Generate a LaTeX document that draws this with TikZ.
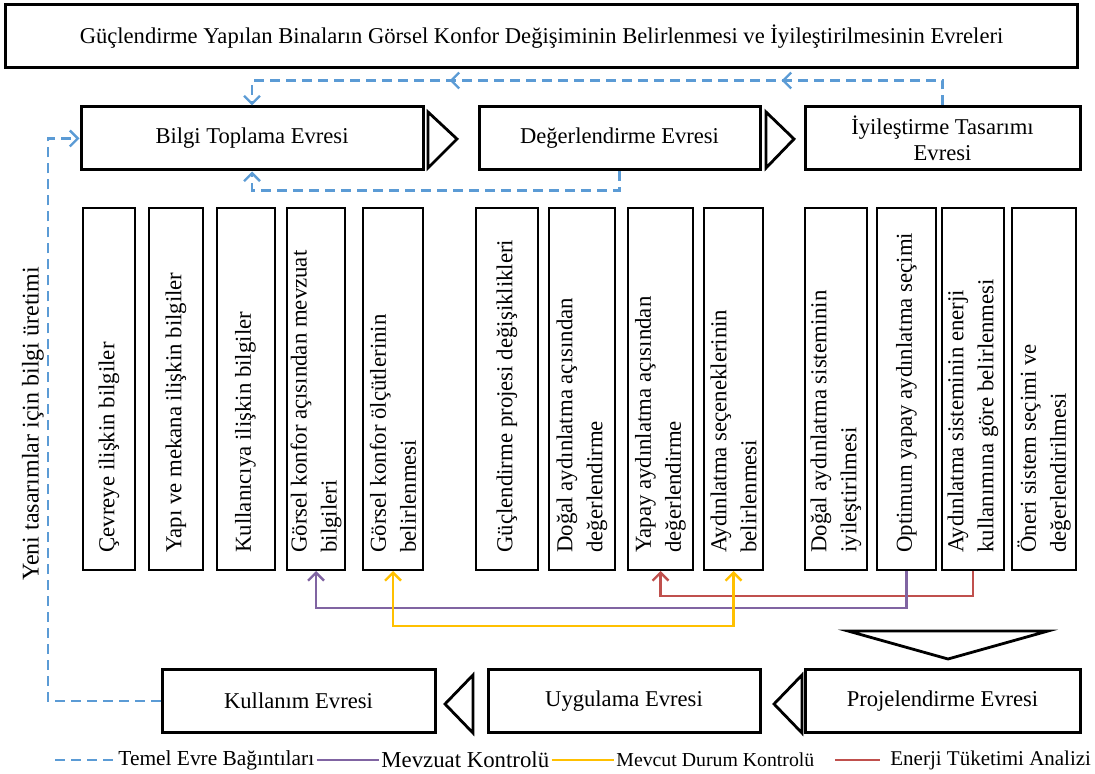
\documentclass[tikz,border=0pt]{standalone}
\usepackage{fontspec}
\setmainfont{Liberation Serif}
\usetikzlibrary{arrows.meta,decorations.markings}
\definecolor{evremavi}{RGB}{91,155,213}
\definecolor{mor}{RGB}{128,100,162}
\definecolor{sari}{RGB}{255,192,0}
\definecolor{kirmizi}{RGB}{192,80,77}
\tikzset{
  evre/.style={draw, line width=1.5pt, minimum height=31.5pt, align=center,
    font=\fontsize{11.3}{13}\selectfont},
  kutu/.style={draw, line width=1pt, minimum height=181pt},
  dikyazi/.style={rotate=90, anchor=west, align=left, inner sep=0pt,
    font=\fontsize{11.4}{15}\selectfont},
  bag/.style={evremavi, line width=1.2pt, dash pattern=on 5pt off 3pt},
  ok/.style={-{Straight Barb[length=4pt,width=8pt]}},
  ucgen/.style={draw, line width=1.4pt, fill=white, line join=miter}
}
\begin{document}
\begin{tikzpicture}[x=0.5pt, y=-0.5pt]
  \useasboundingbox (0,0) rectangle (1095,774);
  % baslik
  \node[evre, minimum width=536pt] (baslik) at (541.5,36.5)
  {G\"u\c{c}lendirme Yap\i lan Binalar\i n G\"orsel Konfor De\u{g}i\c{s}iminin Belirlenmesi ve \.Iyile\c{s}tirilmesinin Evreleri};
  % ust evreler
  \node[evre, minimum width=171pt] (bilgi) at (252,138.5) {Bilgi Toplama Evresi};
  \node[evre, minimum width=140.5pt] (deger) at (619.5,138.5) {Değerlendirme Evresi};
  \node[evre, minimum width=137.5pt] (iyi) at (942.5,138.5) {İyileştirme Tasarımı\\Evresi};
  \draw[ucgen] (428,112) -- (457,139) -- (428,168) -- cycle;
  \draw[ucgen] (766,112) -- (794,139) -- (766,168) -- cycle;
  % alt kutular
  \foreach \n/\x/\w/\t in {
    1/109/26/{Çevreye ilişkin bilgiler},
    2/176/27/{Yapı ve mekana ilişkin bilgiler},
    3/245.5/29/{Kullanıcıya ilişkin bilgiler},
    4/316/29/{Görsel konfor açısından mevzuat\\bilgileri},
    5/393/30/{Görsel konfor ölçütlerinin\\belirlenmesi},
    6/507/31/{Güçlendirme projesi değişiklikleri},
    7/582/33/{Doğal aydınlatma açısından\\değerlendirme},
    8/660.5/32.5/{Yapay aydınlatma açısından\\değerlendirme},
    9/733.5/29.5/{Aydınlatma seçeneklerinin\\belirlenmesi},
    10/836/31/{Doğal aydınlatma sisteminin\\iyileştirilmesi},
    11/906.5/29.5/{Optimum yapay aydınlatma seçimi},
    12/973/31/{Aydınlatma sisteminin enerji\\kullanımına göre belirlenmesi},
    13/1044/32/{Öneri sistem seçimi ve\\değerlendirilmesi}}{
    \node[kutu, minimum width=\w pt] (k\n) at (\x,389) {};
    \node[dikyazi] (y\n) at ([yshift=9pt]k\n.south) {\t};
  }
  % kontrol baglantilari
  \draw[kirmizi, line width=1.2pt, ok] (k12.south) -- ++(0,25) -| (k8.south);
  \draw[mor, line width=1.2pt, ok] (k11.south) -- ++(0,37) -| (k4.south);
  \draw[sari, line width=1.2pt, {Straight Barb[length=4pt,width=8pt]}-{Straight Barb[length=4pt,width=8pt]}]
    (k5.south) -- ++(0,55) -| (k9.south);
  % alt evreler
  \draw[ucgen] (848,631) -- (1048,631) -- (948,659) -- cycle;
  \node[evre, minimum width=136.5pt] (kul) at (298.5,701) {Kullanım Evresi};
  \node[evre, minimum width=136pt] (uyg) at (624,701) {Uygulama Evresi};
  \node[evre, minimum width=137.5pt] (pro) at (942.5,701) {Projelendirme Evresi};
  \draw[ucgen] (473,675) -- (445,704) -- (473,733) -- cycle;
  \draw[ucgen] (802,675) -- (774,704) -- (802,733) -- cycle;
  % temel evre baglantilari
  \draw[bag, ok, postaction={decorate, decoration={markings,
      mark=at position 93pt with {\arrow[evremavi, solid]{Straight Barb[length=4pt,width=8pt]}},
      mark=at position 259pt with {\arrow[evremavi, solid]{Straight Barb[length=4pt,width=8pt]}}}}]
    (iyi.north) -- ++(0,-25) -| (bilgi.north);
  \draw[bag, ok] (deger.south) -- ++(0,19) -| (bilgi.south);
  \coordinate (sol) at (48,0);
  \draw[bag, ok] (kul.west) -| (sol |- bilgi.west) -- (bilgi.west);
  \node[rotate=90, font=\fontsize{12}{13}\selectfont] (yeni) at (33,424)
    {Yeni tasarımlar için bilgi üretimi};
  % lejant
  \node[anchor=west, inner sep=1pt, font=\fontsize{10.7}{12}\selectfont] (l1) at (116,760) {Temel Evre Bağıntıları};
  \node[anchor=west, inner sep=1pt, font=\fontsize{11.4}{12}\selectfont] (l2) at (379,760) {Mevzuat Kontrolü};
  \node[anchor=west, inner sep=1pt, font=\fontsize{9.9}{12}\selectfont] (l3) at (614,760) {Mevcut Durum Kontrolü};
  \node[anchor=west, inner sep=1pt, font=\fontsize{10.5}{12}\selectfont] (l4) at (888,760) {Enerji Tüketimi Analizi};
  \coordinate (c1) at (55,760);
  \coordinate (c4) at (835,760);
  \draw[bag] (c1) -- (l1.west);
  \draw[mor, line width=1.2pt] (l1.east) -- (l2.west);
  \draw[sari, line width=1.2pt] (l2.east) -- (l3.west);
  \draw[kirmizi, line width=1.2pt] (c4) -- ++(45,0);
\end{tikzpicture}
\end{document}
